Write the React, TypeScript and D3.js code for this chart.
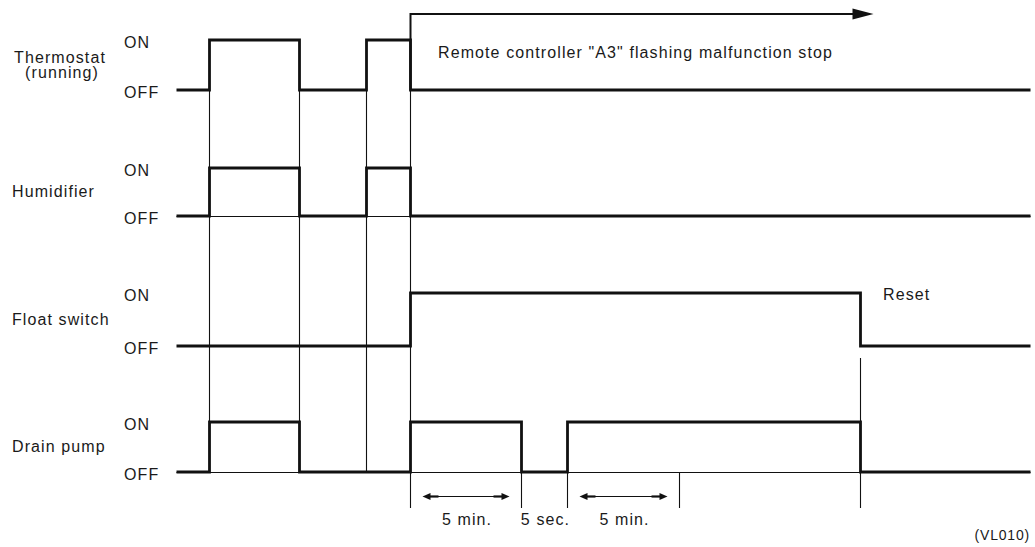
import React from "react";
import * as d3 from "d3";

// ---- Data (time in arbitrary units, states 0 = OFF, 1 = ON) ----
const signalNames = ["Thermostat", "Humidifier", "Float switch", "Drain pump"];
const thermostatSteps: [number, number][] = [[0, 0], [3.9, 1], [14.4, 0], [22.2, 1], [27.4, 0], [100, 0]];
const humidifierSteps: [number, number][] = [[0, 0], [3.9, 1], [14.4, 0], [22.2, 1], [27.4, 0], [100, 0]];
const floatSwitchSteps: [number, number][] = [[0, 0], [27.4, 1], [80.1, 0], [100, 0]];
const drainPumpSteps: [number, number][] = [[0, 0], [3.9, 1], [14.4, 0], [27.4, 1], [40.4, 0], [45.8, 1], [80.1, 0], [100, 0]];
const stateLabels = ["OFF", "ON"];
const guideTimes = [3.9, 14.4, 22.2, 27.4, 40.4, 45.8, 58.9, 80.1];
const intervalArrows: [number, number][] = [[27.4, 40.4], [45.8, 58.9]];
const intervalLabels: [number, number, string][] = [[27.4, 40.4, "5 min."], [40.4, 45.8, "5 sec."], [45.8, 58.9, "5 min."]];
const stopArrowEnd = 81.6;
const stopText = 'Remote controller "A3" flashing malfunction stop';
const resetText = "Reset";
const figureCode = "(VL010)";

const W = 1035, H = 547;
const FONT = "'Liberation Sans', Arial, Helvetica, sans-serif";
const INK = "#111";

export default function App() {
  const xs = d3.scaleLinear().domain([0, 100]).range([176, 1030]);
  const x = (t: number) => Math.round(xs(t)) + 0.5;
  const rows = [
    d3.scaleLinear().domain([0, 1]).range([90, 40]),
    d3.scaleLinear().domain([0, 1]).range([216, 168]),
    d3.scaleLinear().domain([0, 1]).range([346, 293]),
    d3.scaleLinear().domain([0, 1]).range([472, 422]),
  ];
  const series = [thermostatSteps, humidifierSteps, floatSwitchSteps, drainPumpSteps];
  const baselineRows = [1, 3];

  const lineFor = (yS: d3.ScaleLinear<number, number>) =>
    d3.line<[number, number]>().x(d => x(d[0])).y(d => yS(d[1])).curve(d3.curveStepAfter);

  const textStyle: React.CSSProperties = { fontFamily: FONT, fontSize: 16, letterSpacing: 1.1, fill: "#1a1a1a" };

  const guideRange = (t: number): [number, number] => {
    if (t < 27) return [rows[0](0), rows[3](0)];
    if (Math.abs(t - 27.4) < 0.01) return [rows[0](0), 508];
    if (Math.abs(t - 80.1) < 0.01) return [358, 508];
    return [rows[3](0), 508];
  };

  const arrowY = 496.5;
  const inset = 12;

  const arrowHead = (tipX: number, y: number, dir: number, len = 8, hw = 3.5) =>
    `M${tipX},${y} L${tipX - dir * len},${y - hw} L${tipX - dir * len},${y + hw} Z`;

  return (
    <svg width={W} height={H} viewBox={`0 0 ${W} ${H}`} style={{ display: "block", position: "absolute", left: 0, top: 0, background: "#fff" }}>
      <rect width={W} height={H} fill="#fff" />
      {guideTimes.map((t, i) => {
        const [y1, y2] = guideRange(t);
        return <line key={"g" + i} x1={x(t)} x2={x(t)} y1={y1} y2={y2} stroke={INK} strokeWidth={1.1} />;
      })}
      {baselineRows.map(r => (
        <line key={"b" + r} x1={x(0)} x2={x(100)} y1={rows[r](0) + 0.5} y2={rows[r](0) + 0.5} stroke={INK} strokeWidth={1.1} />
      ))}
      {series.map((s, i) => (
        <path key={"s" + i} d={lineFor(rows[i])(s) || ""} fill="none" stroke={INK} strokeWidth={2.8} strokeLinejoin="miter" />
      ))}
      <path d={`M${x(27.4)},${rows[0](0)} L${x(27.4)},14 L${x(stopArrowEnd) - 20},14`} fill="none" stroke={INK} strokeWidth={2} />
      <path d={arrowHead(x(stopArrowEnd), 14, 1, 21, 5.5)} fill={INK} />
      <text x={438} y={58} style={textStyle}>{stopText}</text>
      {signalNames.map((n, i) => {
        const mid = (rows[i](0) + rows[i](1)) / 2;
        if (i === 0) {
          return (
            <g key={"n" + i}>
              <text x={60} y={63} textAnchor="middle" style={textStyle}>{n}</text>
              <text x={62} y={78} textAnchor="middle" style={textStyle}>(running)</text>
            </g>
          );
        }
        return <text key={"n" + i} x={12} y={mid + 5} style={textStyle}>{n}</text>;
      })}
      {rows.map((yS, i) => (
        <g key={"st" + i}>
          {stateLabels.map((lab, v) => (
            <text key={lab} x={124} y={yS(v) + 8} style={textStyle}>{lab}</text>
          ))}
        </g>
      ))}
      {intervalArrows.map(([a, b], i) => {
        const x1 = x(a) + inset, x2 = x(b) - inset;
        return (
          <g key={"ia" + i}>
            <line x1={x1 + 6} x2={x2 - 6} y1={arrowY} y2={arrowY} stroke={INK} strokeWidth={1.1} />
            <line x1={x1 + 6} x2={x1 + 16} y1={arrowY} y2={arrowY} stroke={INK} strokeWidth={2.2} />
            <line x1={x2 - 16} x2={x2 - 6} y1={arrowY} y2={arrowY} stroke={INK} strokeWidth={2.2} />
            <path d={arrowHead(x1, arrowY, -1)} fill={INK} />
            <path d={arrowHead(x2, arrowY, 1)} fill={INK} />
          </g>
        );
      })}
      {intervalLabels.map(([a, b, lab], i) => (
        <text key={"il" + i} x={(x(a) + x(b)) / 2 + 1} y={525} textAnchor="middle" style={textStyle}>{lab}</text>
      ))}
      <text x={883} y={300} style={textStyle}>{resetText}</text>
      <text x={1030} y={540} textAnchor="end" style={{ ...textStyle, fontSize: 14, letterSpacing: 0.8 }}>{figureCode}</text>
    </svg>
  );
}
